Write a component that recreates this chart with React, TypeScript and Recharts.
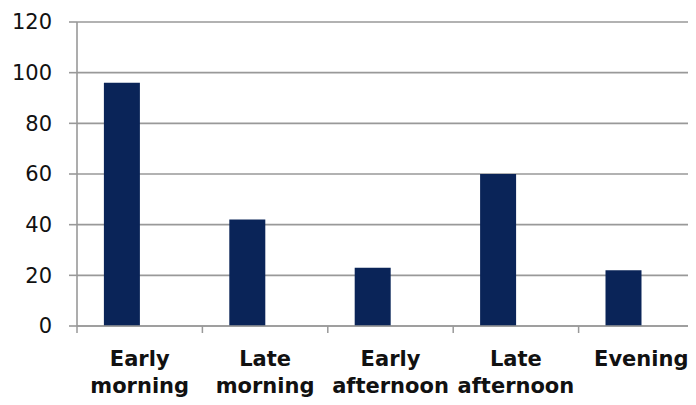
import React from "react";
import { BarChart, Bar, XAxis, YAxis, CartesianGrid } from "recharts";

const categories = ["Early morning", "Late morning", "Early afternoon", "Late afternoon", "Evening"];
const values = [96, 42, 23, 60, 22];
const yTicks = [0, 20, 40, 60, 80, 100, 120];

const data = categories.map((c, i) => ({ name: c, value: values[i], empty: null }));

const CHART_W = 712;
const LEFT = 77;
const RIGHT_MARGIN = CHART_W - LEFT - 627;
const BAND = 627 / categories.length;

const XTick = (props: any) => {
  const { x, y, payload } = props;
  const lines = String(payload.value).split(" ");
  const bx = x - BAND / 2;
  return (
    <g>
      <line x1={bx} x2={bx} y1={y - 7} y2={y} stroke="#999" strokeWidth={1.5} />
      <text
        x={x}
        y={y}
        textAnchor="middle"
        fontFamily="'DejaVu Sans', sans-serif"
        fontWeight={700}
        fontSize={21}
        fill="#111"
      >
        {lines.map((l, i) => (
          <tspan key={i} x={x} y={y + 33 + i * 27}>
            {l}
          </tspan>
        ))}
      </text>
    </g>
  );
};

export default function App() {
  return (
    <div style={{ margin: -8, width: 696, height: 405, overflow: "hidden", background: "#fff" }}>
      <BarChart
        width={CHART_W}
        height={405}
        data={data}
        margin={{ top: 22, right: RIGHT_MARGIN, bottom: 0, left: 0 }}
        barCategoryGap="21.45%"
        barGap={0}
      >
        <CartesianGrid vertical={false} stroke="#999" strokeWidth={1.6} />
        <XAxis
          dataKey="name"
          interval={0}
          height={79}
          tickSize={7}
          tickMargin={0}
          tickLine={false}
          axisLine={{ stroke: "#999", strokeWidth: 1.6 }}
          tick={<XTick />}
        />
        <YAxis
          width={LEFT}
          domain={[0, 120]}
          ticks={yTicks}
          interval={0}
          tickSize={8}
          tickMargin={17}
          tickLine={{ stroke: "#999", strokeWidth: 1.6 }}
          axisLine={{ stroke: "#999", strokeWidth: 1.6 }}
          tick={{ fontFamily: "'DejaVu Sans', sans-serif", fontSize: 21, fill: "#111" }}
        />
        <Bar dataKey="value" fill="#0a2458" isAnimationActive={false} />
        <Bar dataKey="empty" fill="#0a2458" isAnimationActive={false} />
      </BarChart>
    </div>
  );
}
